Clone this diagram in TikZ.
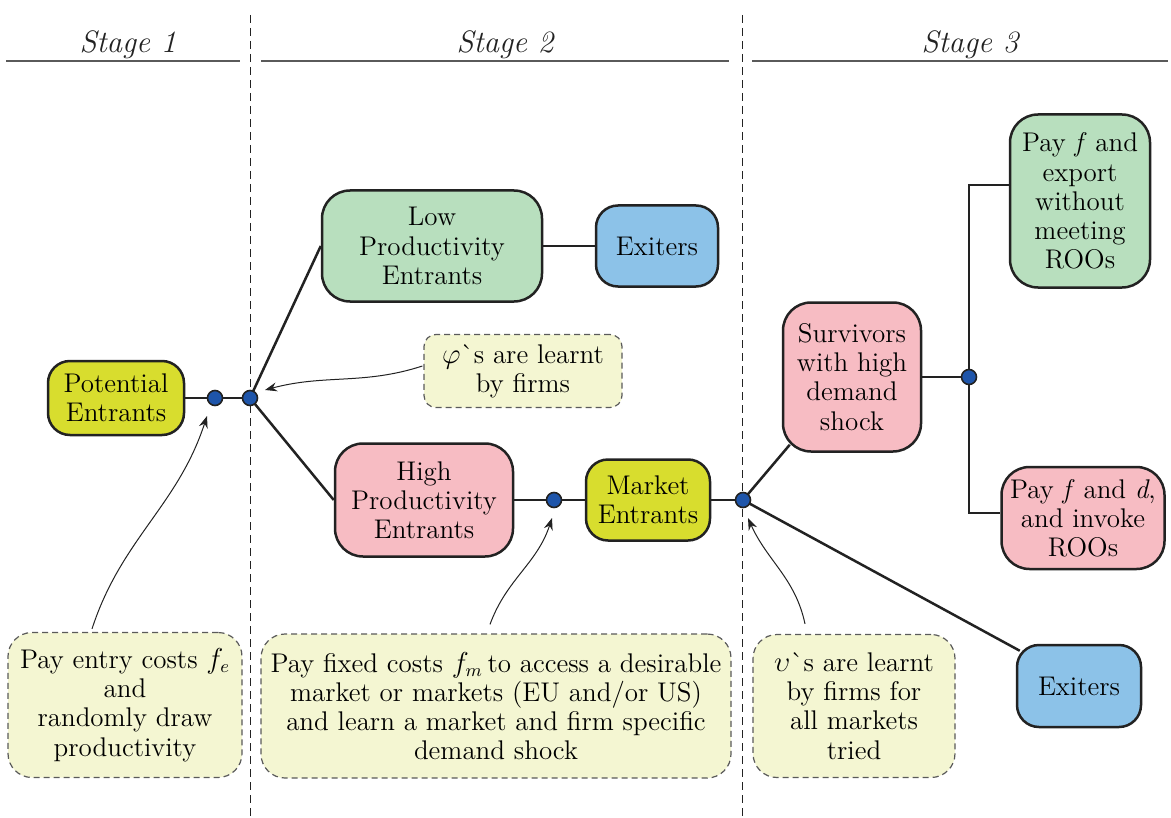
\documentclass[tikz,border=0pt]{standalone}
\usepackage{fontspec}
\usetikzlibrary{arrows.meta,calc,backgrounds}
\definecolor{cYel}{RGB}{216,221,46}
\definecolor{cGrn}{RGB}{184,223,190}
\definecolor{cBlu}{RGB}{140,194,232}
\definecolor{cPnk}{RGB}{247,188,195}
\definecolor{cNote}{RGB}{244,246,210}
\definecolor{cDot}{RGB}{30,85,170}
\definecolor{cLine}{RGB}{34,34,34}
\definecolor{cGray}{RGB}{90,90,90}
\newcommand{\bodyfnt}{\rmfamily\fontsize{13.5}{14.6}\selectfont}
\newcommand{\stagefnt}{\rmfamily\fontsize{15.5}{18}\selectfont\itshape}
\begin{document}
\begin{tikzpicture}[x=0.5pt,y=-0.5pt,
  box/.style={draw=cLine, line width=1.25pt, rounded corners=11pt, align=center, inner sep=0pt, font=\bodyfnt},
  note/.style={draw=cGray, dash pattern=on 3pt off 2pt, line width=0.6pt, fill=cNote, rounded corners=12pt, align=center, inner sep=0pt, font=\bodyfnt},
  dot/.style={circle, fill=cDot, draw=cLine, line width=0.8pt, minimum size=7.5pt, inner sep=0pt},
  conn/.style={line width=1.25pt, draw=cLine},
  ann/.style={line width=0.5pt, draw=cLine, -{Stealth[length=6pt,width=4.5pt,inset=2pt]}},
  stagelbl/.style={font=\stagefnt, anchor=base, text=cLine},
  sepline/.style={dash pattern=on 4pt off 2.5pt, line width=0.5pt, draw=cLine},
  rule/.style={line width=0.7pt, draw=cGray}]
\useasboundingbox (0,0) rectangle (1171,818);

% stage headers
\node[stagelbl] (s1) at (128,53) {Stage 1};
\node[stagelbl] (s2) at (505,53) {Stage 2};
\node[stagelbl] (s3) at (970,53) {Stage 3};
\coordinate (r1a) at (6,61);   \coordinate (r1b) at (240,61);
\coordinate (r2a) at (261,61); \coordinate (r2b) at (729,61);
\coordinate (r3a) at (752,61); \coordinate (r3b) at (1168,61);
\draw[rule] (r1a) -- (r1b);
\draw[rule] (r2a) -- (r2b);
\draw[rule] (r3a) -- (r3b);

% separators
\coordinate (v1t) at (250,15); \coordinate (v1b) at (250,818);
\coordinate (v2t) at (742,15); \coordinate (v2b) at (742,818);
\draw[sepline] (v1t) -- (v1b);
\draw[sepline] (v2t) -- (v2b);

% main nodes
\node[box, fill=cYel, minimum width=68pt, minimum height=37pt] (pe) at (116,398) {Potential\\Entrants};
\node[box, fill=cGrn, minimum width=110pt, minimum height=55.5pt, rounded corners=14pt] (lp) at (432,246) {Low\\Productivity\\Entrants};
\node[box, fill=cBlu, minimum width=61pt, minimum height=40.5pt] (ex1) at (657,246) {Exiters};
\node[box, fill=cPnk, minimum width=89pt, minimum height=56.5pt, rounded corners=14pt] (hp) at (424,500) {High\\Productivity\\Entrants};
\node[box, fill=cYel, minimum width=62pt, minimum height=40.5pt] (me) at (648,500) {Market\\Entrants};
\node[box, fill=cPnk, minimum width=69pt, minimum height=74.5pt, rounded corners=14pt] (sv) at (852,377) {Survivors\\with high\\demand\\shock};
\node[box, fill=cGrn, minimum width=70pt, minimum height=86.5pt, rounded corners=14pt] (pf) at (1080,201) {Pay \textit{f} and\\export\\without\\meeting\\ROOs};
\node[box, fill=cPnk, minimum width=81.5pt, minimum height=51pt, rounded corners=14pt] (pfd) at (1083,518) {Pay \textit{f} and \textit{d},\\and invoke\\ROOs};
\node[box, fill=cBlu, minimum width=62pt, minimum height=41pt] (ex2) at (1079,686) {Exiters};

% notes
\node[note, minimum width=99pt, minimum height=36.5pt, rounded corners=6pt] (phi) at (523,371) {$\varphi$\textasciigrave s are learnt\\by firms};
\node[note, minimum width=117pt, minimum height=72.5pt] (n1) at (125,705) {Pay entry costs $f_e$\\and\\randomly draw\\productivity};
\node[note, minimum width=235pt, minimum height=72pt] (n2) at (496,706) {Pay fixed costs $f_m$\,to access a desirable\\market or markets (EU and/or US)\\and learn a market and firm specific\\demand shock};
\node[note, minimum width=101pt, minimum height=71.5pt] (n3) at (854,706) {$\upsilon$\textasciigrave s are learnt\\by firms for\\all markets\\tried};

% dots
\node[dot] (d1) at (215,398) {};
\node[dot] (d2) at (250,398) {};
\node[dot] (d3) at (554,500) {};
\node[dot] (d4) at (743,500) {};
\node[dot] (d5) at (969,377) {};

% connectors
\begin{scope}[on background layer]
\draw[conn] (pe.east) -- (d1.center) -- (d2.center);
\draw[conn] (d2.center) -- (lp.west);
\draw[conn] (d2.center) -- (hp.west);
\draw[conn] (lp.east) -- (ex1.west);
\draw[conn] (hp.east) -- (d3.center) -- (me.west);
\draw[conn] (me.east) -- (d4.center);
\draw[conn] (d4.center) -- ($(sv.south west)+(8,-8)$);
\draw[conn] (d4.center) -- ($(ex2.north west)+(4,7)$);
\draw[conn] (sv.east) -- (d5.center);
\draw[conn] (d5.center) |- ($(pf.west)+(0,-16)$);
\draw[conn] (d5.center) |- ($(pfd.west)+(0,-5)$);
\end{scope}

% annotation arrows
\draw[ann] ($(n1.north)+(-33,-3)$) to[out=72,in=-108] ($(d1)+(-8,18)$);
\draw[ann] ($(phi.west)+(-1,-5)$) to[out=198,in=15] ($(d2)+(15,-8)$);
\draw[ann] ($(n2.north)+(-6,-9)$) to[out=70,in=-108] ($(d3)+(-2,18)$);
\draw[ann] ($(n3.north)+(-49,-10)$) to[out=102,in=-66] ($(d4)+(5,18)$);
\end{tikzpicture}
\end{document}
